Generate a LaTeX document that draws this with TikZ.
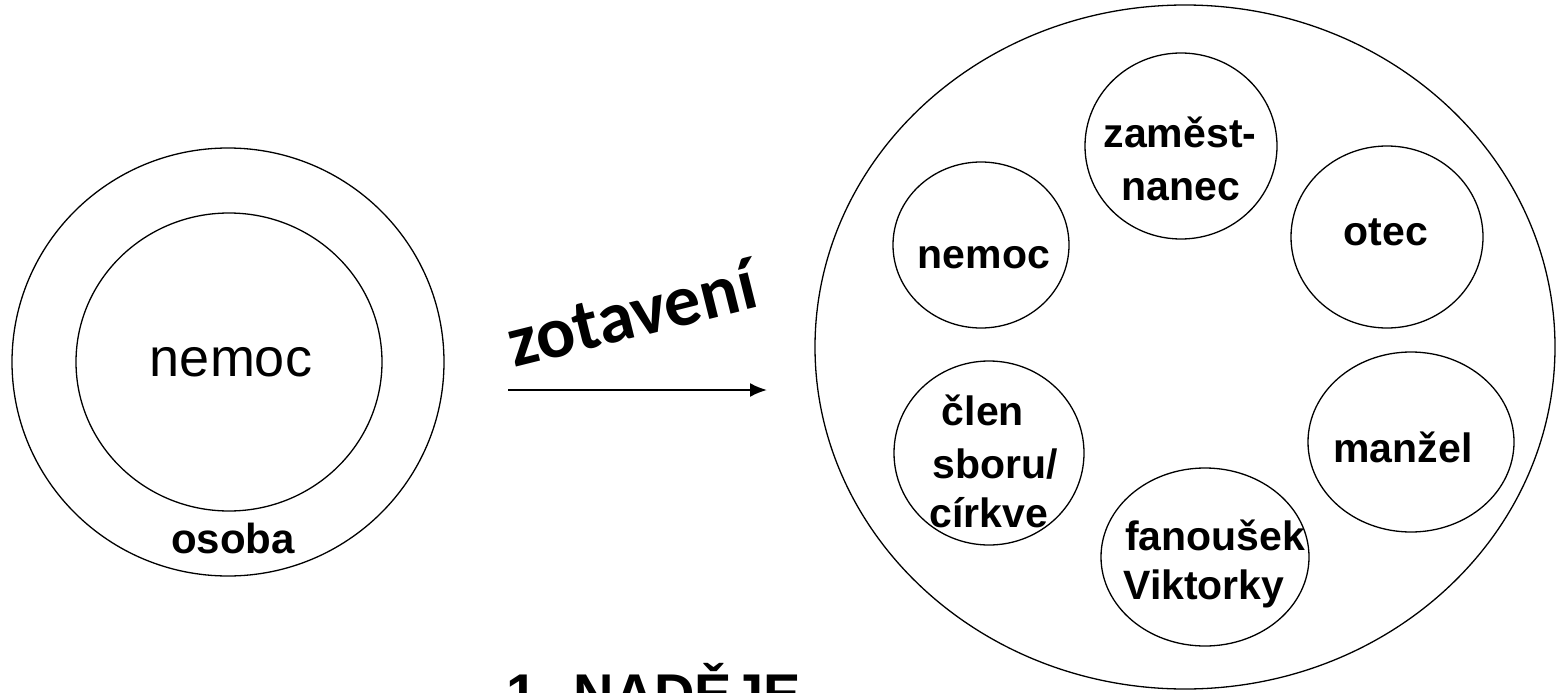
\documentclass[tikz,border=0pt]{standalone}
\usepackage{fontspec}
\setmainfont{Liberation Sans}
\newfontfamily\carlito{Carlito}
\usetikzlibrary{shapes.geometric,arrows.meta}

\begin{document}
\begin{tikzpicture}[x=1pt,y=-1pt,
  ring/.style={draw, ellipse, line width=1.3pt, inner sep=0pt},
  lbl/.style={anchor=base, inner sep=0pt, font=\bfseries\fontsize{41}{48}\selectfont},
]
\useasboundingbox (0,0) rectangle (1556,693);

% left: the person and the illness filling it
\node[ring, minimum width=432pt, minimum height=428pt] (osobaring) at (228,362) {};
\node[ring, minimum width=306pt, minimum height=298pt] (nemocring) at (229,362) {};
\node[anchor=base, inner sep=0pt, font=\fontsize{54}{60}\selectfont] (nemocL) at (231,376) {nemoc};
\node[lbl, font=\bfseries\fontsize{42}{48}\selectfont] (osoba) at (233,553) {osoba};

% recovery arrow
\coordinate (arrS) at (508,390);
\coordinate (arrE) at (767,390);
\draw[line width=2pt, -{Latex[length=17pt,width=14pt]}] (arrS) -- (arrE);
\node[rotate=14, anchor=base west, inner sep=0pt,
      font=\carlito\bfseries\fontsize{73}{73}\selectfont] (zot) at (514,368) {zotavení};

% right: the person with many roles
\node[ring, minimum width=740pt, minimum height=684pt] (big) at (1185,347) {};
\node[ring, minimum width=192pt, minimum height=186pt] (r1) at (1181,146) {};
\node[ring, minimum width=192pt, minimum height=182pt] (r2) at (1387,237) {};
\node[ring, minimum width=176pt, minimum height=166pt] (r3) at (981,245) {};
\node[ring, minimum width=190pt, minimum height=184pt] (r4) at (989,453) {};
\node[ring, minimum width=206pt, minimum height=180pt] (r5) at (1411,442) {};
\node[ring, minimum width=208pt, minimum height=178pt] (r6) at (1205,557) {};

\node[lbl] (t1a) at (1180,147) {zaměst-};
\node[lbl] (t1b) at (1181,200) {nanec};
\node[lbl] (t2) at (1386,245) {otec};
\node[lbl] (t3) at (984,268) {nemoc};
\node[lbl] (t4a) at (983,425) {člen};
\node[lbl] (t4b) at (995,478) {sboru/};
\node[lbl] (t4c) at (989,527) {církve};
\node[lbl] (t5) at (1403,462) {manžel};
\node[lbl] (t6a) at (1215,550) {fanoušek};
\node[lbl] (t6b) at (1204,599) {Viktorky};

% heading cut by the lower edge
\node[anchor=base east, inner sep=0pt, font=\bfseries\fontsize{56}{56}\selectfont] (title) at (801,713) {1. NADĚJE};
\end{tikzpicture}
\end{document}
